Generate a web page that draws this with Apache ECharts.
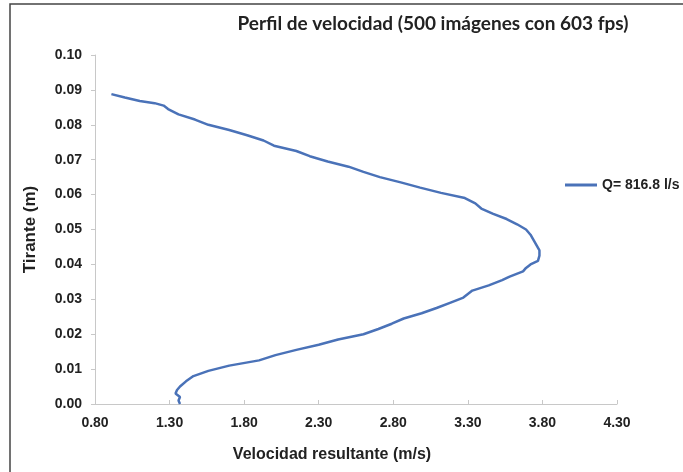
<!DOCTYPE html>
<html><head><meta charset="utf-8">
<script src="https://cdn.jsdelivr.net/npm/echarts@6/dist/echarts.min.js"></script>
<style>html,body{margin:0;padding:0;background:#fff}#c{width:683px;height:472px}</style>
</head><body><div id="c"></div>
<script>
const titleText = 'Perfil de velocidad (500 imágenes con 603 fps)';
const xName = 'Velocidad resultante (m/s)';
const yName = 'Tirante (m)';
const seriesName = 'Q= 816.8 l/s';
// Tirante (m)
const tirante = [0.0000,0.0010,0.0020,0.0030,0.0040,0.0050,0.0065,0.0080,0.0095,0.0110,0.0125,0.0140,0.0155,0.0170,0.0185,0.0200,0.0215,0.0230,0.0245,0.0260,0.0275,0.0290,0.0305,0.0315,0.0325,0.0340,0.0355,0.0365,0.0380,0.0390,0.0400,0.0410,0.0425,0.0440,0.0455,0.0470,0.0485,0.0500,0.0515,0.0530,0.0545,0.0560,0.0575,0.0590,0.0605,0.0620,0.0635,0.0650,0.0665,0.0680,0.0695,0.0710,0.0725,0.0740,0.0755,0.0770,0.0785,0.0800,0.0815,0.0830,0.0845,0.0855,0.0862,0.0868,0.0878,0.0888];
// Velocidad resultante (m/s)
const velocidad = [1.37,1.36,1.37,1.34,1.35,1.37,1.41,1.46,1.56,1.70,1.90,2.01,2.15,2.30,2.43,2.60,2.70,2.79,2.87,2.99,3.09,3.18,3.27,3.30,3.33,3.44,3.53,3.58,3.67,3.69,3.72,3.77,3.78,3.78,3.76,3.74,3.72,3.69,3.63,3.56,3.47,3.39,3.35,3.28,3.12,2.98,2.85,2.71,2.60,2.50,2.36,2.24,2.15,2.00,1.93,1.82,1.70,1.56,1.47,1.36,1.29,1.26,1.20,1.10,1.00,0.91];
const xMin = 0.80, xMax = 4.30, xStep = 0.50;
const yMin = 0.00, yMax = 0.10, yStep = 0.01;

const pts = tirante.map((h, i) => [velocidad[i], h]);
const chart = echarts.init(document.getElementById('c'), null, {renderer: 'canvas'});
chart.setOption({
  animation: false,
  backgroundColor: '#fff',
  title: {
    text: titleText, left: 428, top: 9, textAlign: 'center',
    textStyle: {fontFamily: 'Lato', fontWeight: 'bold', fontSize: 19, color: '#222'}
  },
  graphic: [{
    type: 'rect', shape: {x: 10, y: 4, width: 720, height: 520},
    style: {fill: 'none', stroke: '#444', lineWidth: 1.5}, silent: true, z: -1
  }],
  legend: {
    left: 560, top: 173, icon: 'rect', itemWidth: 32, itemHeight: 3, itemGap: 4,
    data: [seriesName],
    textStyle: {fontFamily: 'Liberation Sans', fontWeight: 'bold', fontSize: 14, color: '#222', padding: [0, 0, 0, 0]}
  },
  grid: {left: 95, right: 66, top: 55, bottom: 68, containLabel: false},
  xAxis: {
    type: 'value', min: xMin, max: xMax, interval: xStep,
    name: xName, nameLocation: 'middle', nameGap: 43,
    nameTextStyle: {fontFamily: 'Liberation Sans', fontWeight: 'bold', fontSize: 16, color: '#222',
      padding: [0, 48, 0, 0]},
    axisLine: {show: true, lineStyle: {color: '#c8c8c8', width: 1}},
    axisTick: {show: true, inside: true, length: 4, lineStyle: {color: '#c8c8c8'}},
    axisLabel: {margin: 12, fontFamily: 'Liberation Sans', fontWeight: 'bold', fontSize: 14, color: '#222',
      formatter: v => v.toFixed(2)},
    splitLine: {show: false}
  },
  yAxis: {
    type: 'value', min: yMin, max: yMax, interval: yStep,
    name: yName, nameLocation: 'middle', nameGap: 56,
    nameTextStyle: {fontFamily: 'Liberation Sans', fontWeight: 'bold', fontSize: 17, color: '#222'},
    axisLine: {show: true, lineStyle: {color: '#c8c8c8', width: 1}},
    axisTick: {show: true, length: 4, lineStyle: {color: '#c8c8c8'}},
    axisLabel: {margin: 13, fontFamily: 'Liberation Sans', fontWeight: 'bold', fontSize: 14, color: '#222',
      formatter: v => v.toFixed(2)},
    splitLine: {show: false}
  },
  series: [{
    name: seriesName, type: 'line', data: pts, symbol: 'none', smooth: false,
    lineStyle: {color: '#4a72b8', width: 2.5}, itemStyle: {color: '#4a72b8'}
  }]
});
</script></body></html>
